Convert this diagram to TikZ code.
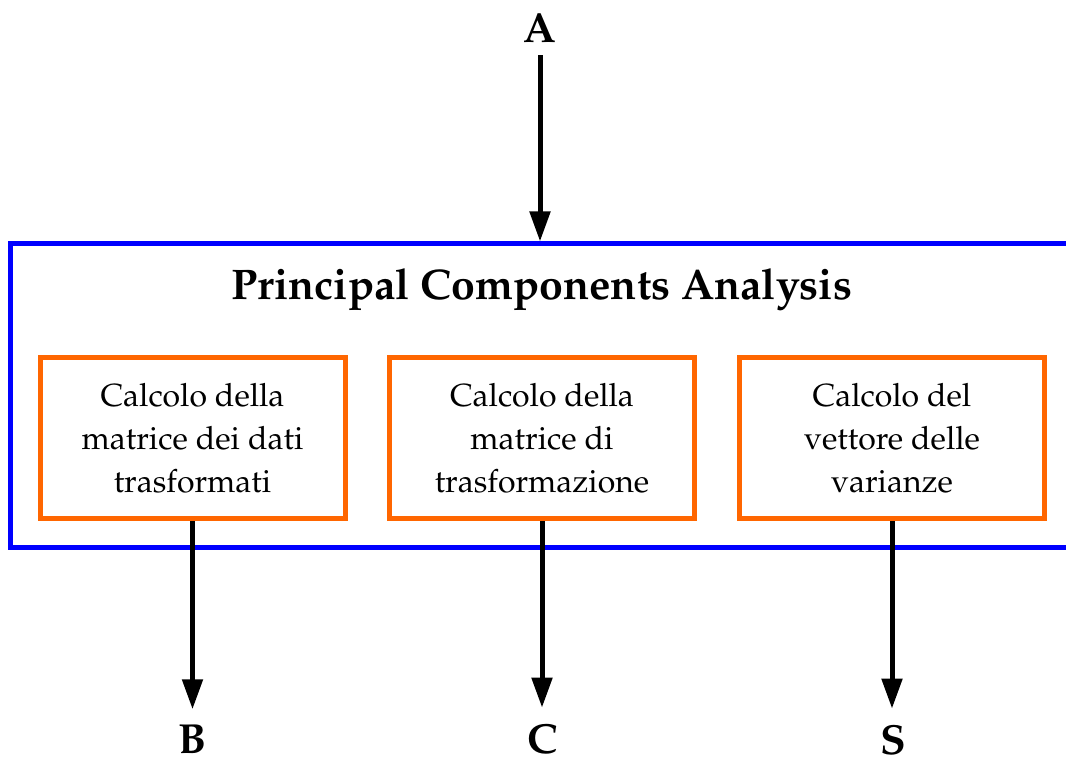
\documentclass[tikz,border=0pt]{standalone}
\usepackage[T1]{fontenc}
\usepackage{mathpazo}
\usepackage{tikz}
\usetikzlibrary{arrows.meta,positioning}
\definecolor{pcablue}{RGB}{0,0,255}
\definecolor{steporange}{RGB}{255,102,0}

\begin{document}
\begin{tikzpicture}[x=0.5pt,y=-0.5pt,
  pcabox/.style={draw=pcablue,line width=2.5pt,minimum width=535pt,minimum height=152pt,inner sep=0pt},
  stepbox/.style={draw=steporange,line width=2.5pt,minimum width=152.5pt,minimum height=80.5pt,inner sep=0pt,align=center,font=\fontsize{16}{21.5}\selectfont},
  iolabel/.style={font=\fontsize{21}{24}\selectfont\bfseries,inner sep=0pt},
  flow/.style={line width=2.5pt,-{Triangle[width=10pt,length=15pt]}}]
\useasboundingbox (0,0) rectangle (1066,763);
\clip (0,0) rectangle (1066,763);
\node [pcabox] (pca) at (545,396) {};
\node [font=\fontsize{21.4}{26}\selectfont\bfseries] (title) at (542,290) {Principal Components Analysis};
\node [stepbox] (m1) at (192.5,438.5) {Calcolo della\\matrice dei dati\\trasformati};
\node [stepbox] (m2) at (542,438.5) {Calcolo della\\matrice di\\trasformazione};
\node [stepbox] (m3) at (892,438.5) {Calcolo del\\vettore delle\\varianze};
\node [iolabel] (A) at (540,28) {A};
\node [iolabel] (B) at (193,740) {B};
\node [iolabel] (C) at (543,739) {C};
\node [iolabel] (S) at (893,740) {S};
\draw [flow,shorten <=6pt] (A.south) -- (A.south |- pca.north);
\draw [flow,shorten >=8pt] (m1.south) -- (m1.south |- B.north);
\draw [flow,shorten >=8pt] (m2.south) -- (m2.south |- C.north);
\draw [flow,shorten >=8pt] (m3.south) -- (m3.south |- S.north);
\end{tikzpicture}
\end{document}
